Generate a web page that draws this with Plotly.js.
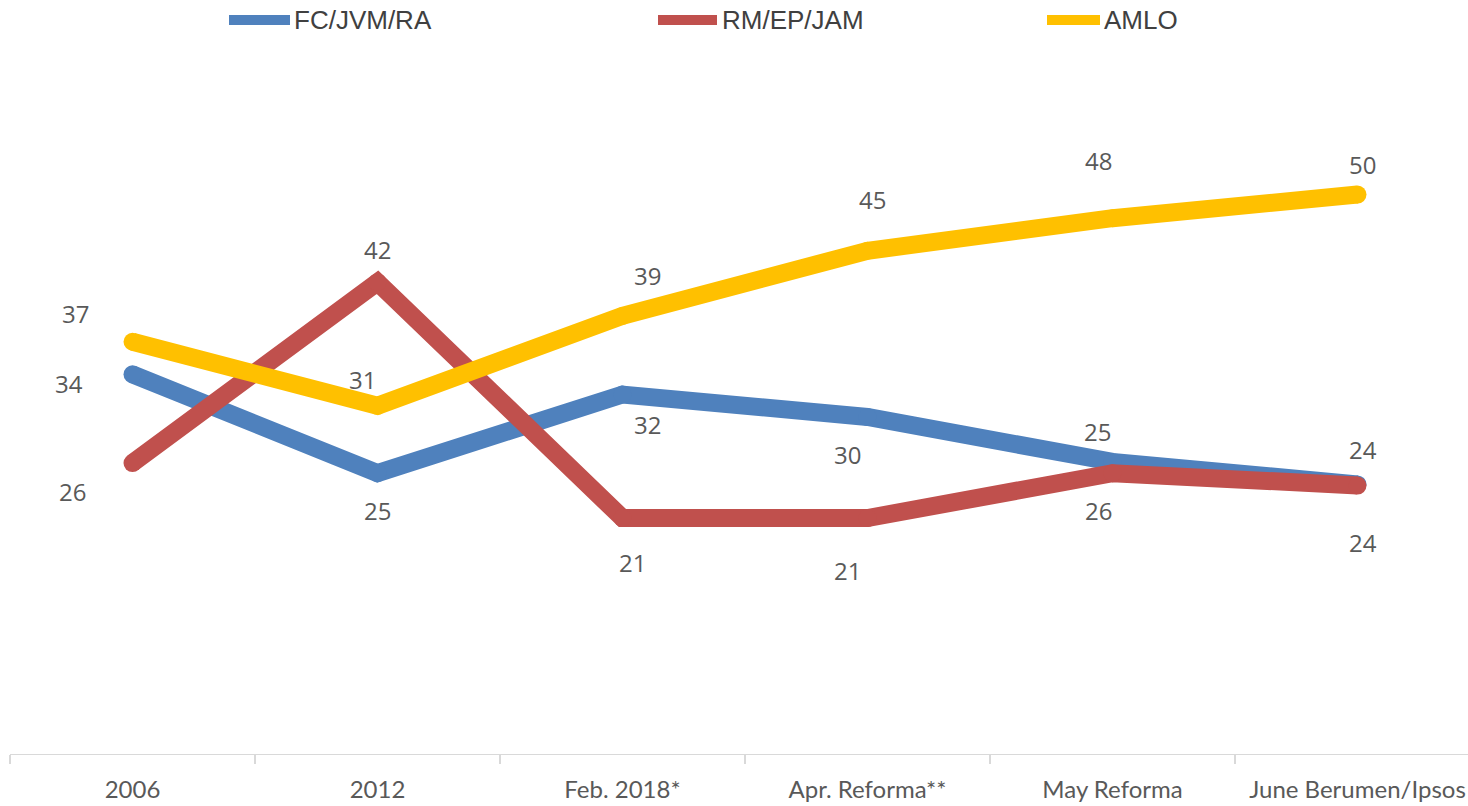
<!DOCTYPE html>
<html>
<head>
<meta charset="utf-8">
<script src="https://cdn.plot.ly/plotly-3.0.1.min.js"></script>
<style>
html,body{margin:0;padding:0;background:#fff;overflow:hidden;}
#chart{width:1468px;height:806px;}
</style>
</head>
<body>
<div id="chart"></div>
<script>
// ---- data ----
const categories = ["2006", "2012", "Feb. 2018*", "Apr. Reforma**", "May Reforma", "June Berumen/Ipsos"];
const seriesNames = ["FC/JVM/RA", "RM/EP/JAM", "AMLO"];
const fcValues   = [33.8, 25, 32, 30, 26, 24];
const rmValues   = [25.9, 42, 21, 21, 25, 23.9];
const amloValues = [36.7, 31, 39, 44.8, 47.7, 49.8];
const fcLabels   = ["34", "25", "32", "30", "25", "24"];
const rmLabels   = ["26", "42", "21", "21", "26", "24"];
const amloLabels = ["37", "31", "39", "45", "48", "50"];

// ---- styling / placement ----
const colors = ["#4F81BD", "#C0504D", "#FFC000"];
const lineW = 18;
// label offsets [xshift, yshift] in px
const fcOff   = [[-64,-9],[0,-37],[25,-30],[-20,-37],[-15,30],[5,35]];
const rmOff   = [[-60,-28],[0,33],[10,-44],[-20,-52],[-14,-37],[5,-57]];
const amloOff = [[-57,28],[-15,26],[25,40],[5,51],[-14,58],[5,30]];
// legend placement in px: [lineStart, lineEnd, textStart]
const legendPx = [[229,290,292],[658,717,720],[1047,1100,1102]];
const legendY = 20;

const L = 10, R = 0, T = 80, B = 52, W = 1468, H = 806;
const plotW = W - L - R, plotH = H - T - B;
const px2x = p => (p - L) / plotW;
const px2y = p => (H - B - p) / plotH;

const allValues = [fcValues, rmValues, amloValues];
const allLabels = [fcLabels, rmLabels, amloLabels];
const allOff = [fcOff, rmOff, amloOff];

const traces = allValues.map((vals, i) => ({
  type: "scatter",
  mode: "lines+markers",
  x: categories,
  y: vals,
  name: seriesNames[i],
  line: {color: colors[i], width: lineW},
  marker: {color: colors[i], size: lineW, line: {width: 0}},
  hoverinfo: "skip",
  showlegend: false,
  cliponaxis: false
}));

const annotations = [];
allValues.forEach((vals, i) => {
  vals.forEach((v, j) => {
    annotations.push({
      x: j, y: v, xref: "x", yref: "y",
      text: allLabels[i][j], showarrow: false,
      xshift: allOff[i][j][0], yshift: allOff[i][j][1],
      xanchor: "center", yanchor: "middle",
      font: {family: "Open Sans", size: 24, color: "#595959"}
    });
  });
});

const shapes = [];
legendPx.forEach((lp, i) => {
  shapes.push({
    type: "line", xref: "paper", yref: "paper",
    x0: px2x(lp[0]), x1: px2x(lp[1]), y0: px2y(legendY), y1: px2y(legendY),
    line: {color: colors[i], width: 10}
  });
  annotations.push({
    xref: "paper", yref: "paper", x: px2x(lp[2]), y: px2y(legendY),
    text: seriesNames[i], showarrow: false, xanchor: "left", yanchor: "middle",
    font: {family: "Liberation Sans, Arial", size: 26, color: "#404040"}
  });
});

const layout = {
  width: W, height: H,
  margin: {l: L, r: R, t: T, b: B, pad: 0},
  paper_bgcolor: "#ffffff",
  plot_bgcolor: "#ffffff",
  showlegend: false,
  xaxis: {
    type: "category",
    range: [-0.5, -0.5 + plotW / 245],
    showgrid: false, zeroline: false,
    showline: true, linecolor: "#d9d9d9", linewidth: 1.3,
    ticks: "outside", ticklen: 9, tickcolor: "#d9d9d9", tickwidth: 1.3,
    tickson: "boundaries",
    ticklabelstandoff: 14,
    tickfont: {family: "Lato", size: 24, color: "#595959"},
    automargin: false, fixedrange: true
  },
  yaxis: {
    range: [0, 60], visible: false, showgrid: false, zeroline: false,
    fixedrange: true
  },
  shapes: shapes,
  annotations: annotations
};

Plotly.newPlot("chart", traces, layout, {displayModeBar: false, staticPlot: true});
</script>
</body>
</html>
